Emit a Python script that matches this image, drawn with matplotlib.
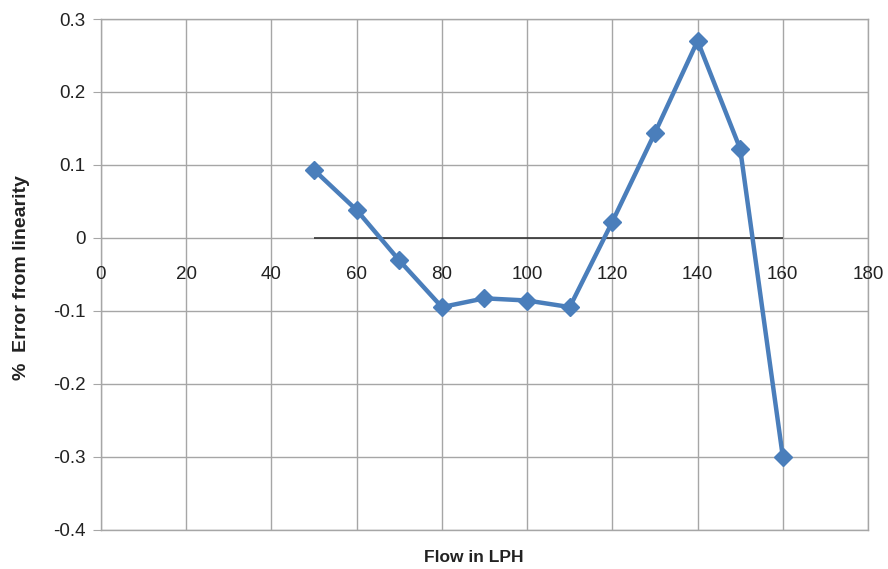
import matplotlib
matplotlib.use("Agg")
import matplotlib.pyplot as plt

# Flow rate (LPH) and percentage error from linearity
flow = [50, 60, 70, 80, 90, 100, 110, 120, 130, 140, 150, 160]
error = [0.093, 0.038, -0.031, -0.095, -0.083, -0.086, -0.095, 0.022, 0.144, 0.270, 0.122, -0.300]

x_ticks = [0, 20, 40, 60, 80, 100, 120, 140, 160, 180]
y_ticks = [0.3, 0.2, 0.1, 0, -0.1, -0.2, -0.3, -0.4]
y_tick_labels = ["0.3", "0.2", "0.1", "0", "-0.1", "-0.2", "-0.3", "-0.4"]

plt.rcParams["font.family"] = ["Liberation Sans", "DejaVu Sans"]

fig = plt.figure(figsize=(8.88, 5.69), dpi=100)
ax = fig.add_axes([0.1137, 0.0694, 0.8638, 0.8972])

grid_color = "#a6a6a6"
ax.set_xlim(0, 180)
ax.set_ylim(-0.4, 0.3)
ax.set_xticks(x_ticks)
ax.set_yticks(y_ticks)
ax.set_yticklabels(y_tick_labels)
ax.grid(True, color=grid_color, linewidth=1.0)
ax.set_axisbelow(True)

for side in ["left", "right", "top", "bottom"]:
    ax.spines[side].set_color(grid_color)
    ax.spines[side].set_linewidth(1.0)
ax.spines["bottom"].set_visible(False)

# x tick labels sit below the zero line
ax.tick_params(axis="x", length=0, pad=0)
ax.set_xticklabels([])
for xv in x_ticks:
    ax.annotate(str(xv), xy=(xv, 0), xytext=(0, -37), textcoords="offset pixels",
                ha="center", va="center", fontsize=13.5, color="#222222")
ax.plot([0, 180], [-0.4, -0.4], color=grid_color, linewidth=1.0, clip_on=False, zorder=1)

ax.tick_params(axis="y", length=6, color=grid_color, labelsize=13.5,
               labelcolor="#222222", pad=5)

# zero line across the measured range
ax.hlines(0, min(flow), max(flow), color="#333333", linewidth=1.2, zorder=2)

ax.plot(flow, error, color="#4a7ebb", linewidth=3.2, marker="D",
        markersize=9, markerfacecolor="#4a7ebb", markeredgecolor="#4a7ebb", zorder=3)

fig.text(0.533, 0.02, "Flow in LPH", ha="center", va="center",
         fontsize=12.5, fontweight="bold", color="#222222")
fig.text(0.024, 0.513, "%  Error from linearity", ha="center", va="center",
         rotation=90, fontsize=14, fontweight="bold", color="#222222")

fig.savefig("out.png", dpi=100)
